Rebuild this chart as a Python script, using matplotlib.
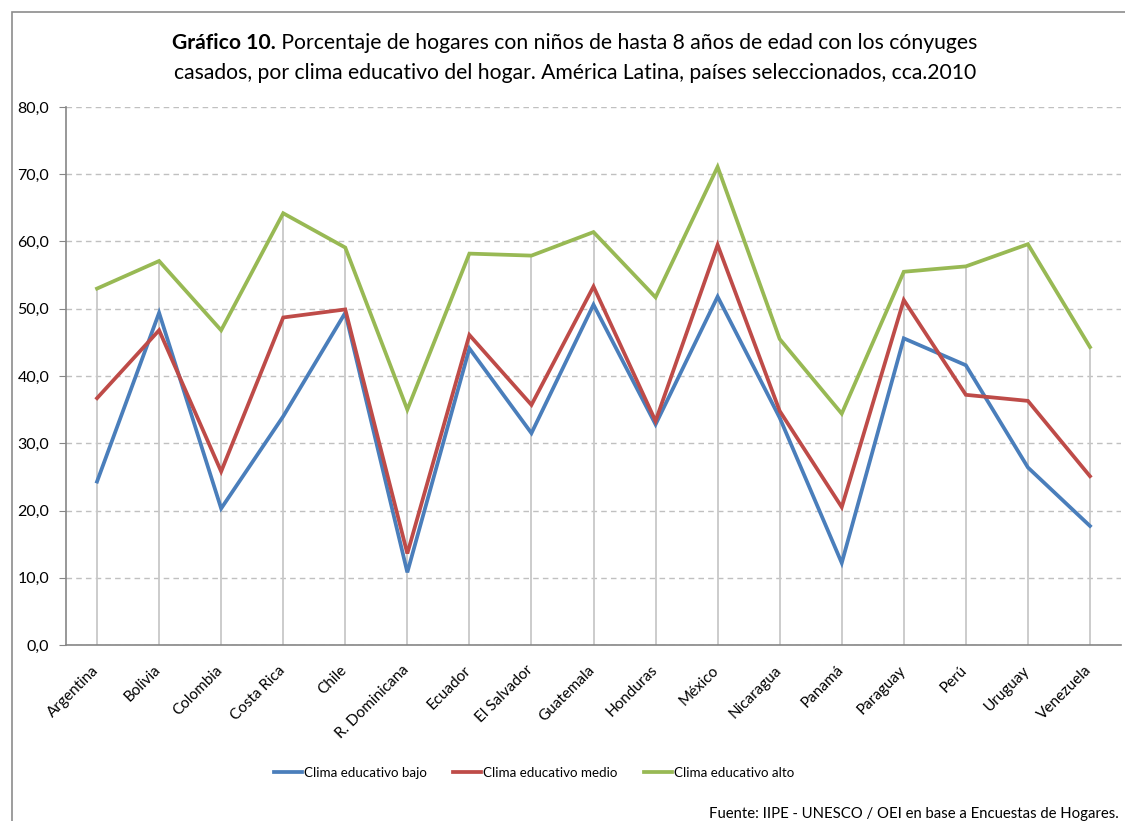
import numpy as np
import matplotlib.pyplot as plt
from matplotlib.patches import Rectangle
import matplotlib.transforms as mtransforms

plt.rcParams['font.family'] = ['Lato', 'DejaVu Sans']

paises = ["Argentina", "Bolivia", "Colombia", "Costa Rica", "Chile", "R. Dominicana",
          "Ecuador", "El Salvador", "Guatemala", "Honduras", "México", "Nicaragua",
          "Panamá", "Paraguay", "Perú", "Uruguay", "Venezuela"]

clima_bajo = [24.3, 49.4, 20.3, 34.0, 49.4, 10.8, 44.1, 31.5, 50.6, 32.8,
              51.8, 33.8, 12.2, 45.6, 41.6, 26.4, 17.7]
clima_medio = [36.7, 46.8, 25.8, 48.7, 49.9, 13.6, 46.1, 35.7, 53.3, 33.3,
               59.5, 34.8, 20.5, 51.3, 37.2, 36.3, 25.1]
clima_alto = [53.0, 57.1, 46.8, 64.2, 59.1, 35.0, 58.2, 57.9, 61.4, 51.7,
              71.1, 45.5, 34.4, 55.5, 56.3, 59.6, 44.3]

series = [("Clima educativo bajo", clima_bajo, "#4A7EBB"),
          ("Clima educativo medio", clima_medio, "#BE4B48"),
          ("Clima educativo alto", clima_alto, "#98B954")]

W, H = 1125, 821
fig = plt.figure(figsize=(W / 100, H / 100), dpi=100)

# marco del gráfico (se corta a la derecha y abajo)
fig.patches.append(Rectangle((12 / W, -0.1), 1.2, 1 - 12 / H + 0.1,
                             transform=fig.transFigure, fill=False,
                             edgecolor="#8c8c8c", linewidth=1.2))

ax = fig.add_axes([66 / W, 1 - 645 / H, (1121 - 66) / W, (645 - 107) / H])
x = np.arange(len(paises))

# líneas de caída desde el punto más alto
tope = np.max([clima_bajo, clima_medio, clima_alto], axis=0)
ax.vlines(x, 0, tope, color="#c8c8c8", linewidth=1.3, zorder=1)

for nombre, valores, color in series:
    ax.plot(x, valores, color=color, linewidth=2.7, label=nombre,
            solid_joinstyle="miter", zorder=3)

ax.set_xlim(-0.5, len(paises) - 0.5)
ax.set_ylim(0, 80)
ax.set_yticks(np.arange(0, 81, 10))
ax.set_yticklabels([f"{v:.1f}".replace(".", ",") for v in np.arange(0, 81, 10)],
                   fontsize=11.5)
ax.yaxis.grid(True, linestyle=(0, (4, 3)), color="#c0c0c0", linewidth=1.0)
ax.set_axisbelow(True)
ax.tick_params(axis="y", length=5, color="#868686", pad=7)

ax.set_xticks(x)
ax.set_xticklabels(paises, rotation=45, ha="right", rotation_mode="anchor",
                   fontsize=11)
ax.tick_params(axis="x", length=0, pad=13)
offset = mtransforms.ScaledTranslation(-4 / 72, 0, fig.dpi_scale_trans)
for lbl in ax.get_xticklabels():
    lbl.set_transform(lbl.get_transform() + offset)

for lado in ["top", "right"]:
    ax.spines[lado].set_visible(False)
ax.spines["left"].set_color("#868686")
ax.spines["bottom"].set_color("#868686")
ax.spines["left"].set_linewidth(1.2)
ax.spines["bottom"].set_linewidth(1.2)

# título con parte en negrita
renderer = fig.canvas.get_renderer()
cx = 575 / W
y1 = 1 - 43 / H
negrita = fig.text(0, y1, "Gráfico 10.", fontsize=15.2, fontweight="bold",
                   va="center", ha="left")
resto = fig.text(0, y1, " Porcentaje de hogares con niños de hasta 8 años de edad con los cónyuges",
                 fontsize=15.2, va="center", ha="left")
wb = negrita.get_window_extent(renderer).width / W
wr = resto.get_window_extent(renderer).width / W
x0 = cx - (wb + wr) / 2
negrita.set_x(x0)
resto.set_x(x0 + wb)
fig.text(cx, 1 - 73 / H,
         "casados, por clima educativo del hogar. América Latina, países seleccionados, cca.2010",
         fontsize=15.2, va="center", ha="center")

fig.legend(loc="center", bbox_to_anchor=(534 / W, 1 - 773 / H), ncol=3,
           frameon=False, fontsize=9.6, handlelength=2.1, handletextpad=0.15,
           columnspacing=2.0)

fig.text(1119 / W, 1 - 814 / H,
         "Fuente: IIPE - UNESCO / OEI en base a Encuestas de Hogares.",
         fontsize=10.7, ha="right", va="center")

fig.savefig("out.png", dpi=100)
